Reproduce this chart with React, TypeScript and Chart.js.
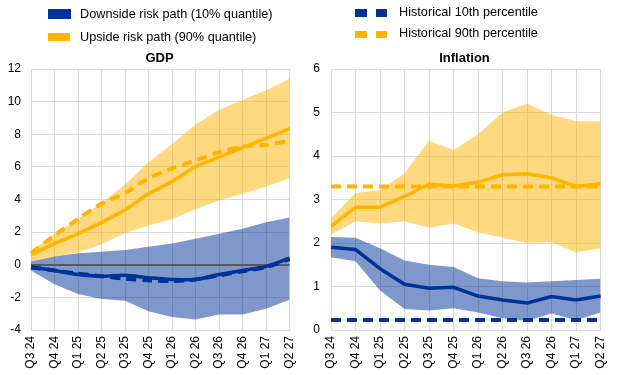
import React, { useEffect, useRef } from "react";
import { Chart, registerables } from "chart.js";

Chart.register(...registerables);

const quarters = ["Q3 24", "Q4 24", "Q1 25", "Q2 25", "Q3 25", "Q4 25", "Q1 26", "Q2 26", "Q3 26", "Q4 26", "Q1 27", "Q2 27"];

// GDP
const gdpUpUpper = [0.8, 1.9, 2.8, 3.8, 4.9, 6.3, 7.4, 8.6, 9.5, 10.1, 10.7, 11.4];
const gdpUpLower = [0.2, 0.5, 0.75, 1.25, 1.95, 2.4, 2.8, 3.4, 3.95, 4.35, 4.8, 5.3];
const gdpUpPath = [0.6, 1.3, 1.9, 2.6, 3.35, 4.35, 5.1, 6.0, 6.6, 7.2, 7.75, 8.35];
const gdpUpHist = [0.7, 1.8, 2.8, 3.75, 4.4, 5.3, 5.9, 6.4, 6.9, 7.25, 7.35, 7.6];
const gdpDownUpper = [0.2, 0.5, 0.7, 0.8, 0.9, 1.1, 1.3, 1.6, 1.9, 2.2, 2.6, 2.9];
const gdpDownLower = [-0.35, -1.2, -1.8, -2.1, -2.2, -2.85, -3.2, -3.35, -3.05, -3.05, -2.7, -2.15];
const gdpDownPath = [-0.15, -0.35, -0.6, -0.7, -0.65, -0.8, -0.9, -0.9, -0.6, -0.35, -0.1, 0.4];
const gdpDownHist = [-0.15, -0.35, -0.55, -0.7, -0.85, -0.95, -1.0, -0.9, -0.65, -0.4, -0.15, 0.35];

// Inflation
const infUpUpper = [2.57, 3.15, 3.22, 3.6, 4.35, 4.14, 4.5, 5.0, 5.2, 4.95, 4.8, 4.8];
const infUpLower = [2.19, 2.5, 2.45, 2.5, 2.35, 2.45, 2.25, 2.12, 2.0, 2.02, 1.78, 1.88];
const infUpPath = [2.38, 2.82, 2.82, 3.07, 3.35, 3.31, 3.4, 3.57, 3.59, 3.5, 3.3, 3.36];
const infUpHist = [3.3, 3.3, 3.3, 3.3, 3.3, 3.3, 3.3, 3.3, 3.3, 3.3, 3.3, 3.3];
const infDownUpper = [2.14, 2.12, 1.88, 1.6, 1.5, 1.45, 1.19, 1.12, 1.09, 1.12, 1.15, 1.18];
const infDownLower = [1.67, 1.58, 0.91, 0.48, 0.45, 0.5, 0.4, 0.27, 0.21, 0.38, 0.23, 0.4];
const infDownPath = [1.9, 1.85, 1.41, 1.05, 0.96, 0.98, 0.78, 0.69, 0.62, 0.77, 0.69, 0.78];
const infDownHist = [0.23, 0.23, 0.23, 0.23, 0.23, 0.23, 0.23, 0.23, 0.23, 0.23, 0.23, 0.23];

const gdpTicks = { min: -4, max: 12, step: 2 };
const infTicks = { min: 0, max: 6, step: 1 };

const BLUE = "#003299";
const YELLOW = "#FFB400";
const BLUE_FILL = "rgba(0,50,153,0.5)";
const YELLOW_FILL = "rgba(255,180,0,0.5)";
const GRID = "#d9d9d9";
const FONT = "Arial, 'Liberation Sans', sans-serif";

type Cfg = {
  upUpper: number[]; upLower: number[]; upPath: number[]; upHist: number[];
  downUpper: number[]; downLower: number[]; downPath: number[]; downHist: number[];
  ticks: { min: number; max: number; step: number };
  axisWidth: number; tickPad: number; padRight: number; tension: number; zeroLine: boolean;
};

function makeConfig(c: Cfg): any {
  const band = (data: number[], fill: any, color: string, order: number) => ({
    data, fill, backgroundColor: color, borderWidth: 0, pointRadius: 0, order, tension: 0,
  });
  const line = (data: number[], color: string, dashed: boolean, order: number) => ({
    data, fill: false, borderColor: color, borderWidth: dashed ? 4 : 3.5,
    borderDash: dashed ? [10, 6] : [], borderCapStyle: "butt", pointRadius: 0, order,
    tension: c.tension,
  });
  const zeroPlugin = {
    id: "zeroLine",
    beforeDatasetDraw(chart: any, args: any) {
      if (!c.zeroLine || args.index !== 4) return;
      const y = chart.scales.y.getPixelForValue(0);
      const { left, right } = chart.chartArea;
      const ctx = chart.ctx;
      ctx.save();
      ctx.strokeStyle = "#595959";
      ctx.lineWidth = 2;
      ctx.beginPath();
      ctx.moveTo(left, Math.round(y));
      ctx.lineTo(right, Math.round(y));
      ctx.stroke();
      ctx.restore();
    },
  };
  return {
    type: "line",
    data: {
      labels: quarters,
      datasets: [
        band(c.upLower, false, "transparent", 10),
        band(c.upUpper, "-1", YELLOW_FILL, 10),
        band(c.downLower, false, "transparent", 9),
        band(c.downUpper, "-1", BLUE_FILL, 9),
        line(c.upHist, YELLOW, true, 3),
        line(c.upPath, YELLOW, false, 2),
        line(c.downHist, BLUE, true, 1),
        line(c.downPath, BLUE, false, 0),
      ],
    },
    options: {
      animation: false,
      responsive: false,
      maintainAspectRatio: false,
      layout: { padding: { top: 69, right: c.padRight, bottom: 0, left: 0 } },
      plugins: { legend: { display: false }, title: { display: false }, tooltip: { enabled: false } },
      scales: {
        x: {
          type: "category",
          offset: false,
          grid: { color: GRID, lineWidth: 1, drawTicks: false },
          border: { color: GRID },
          ticks: {
            autoSkip: false, maxRotation: 90, minRotation: 90, padding: 6,
            color: "#000", font: { family: FONT, size: 12 },
          },
          afterFit: (s: any) => { s.height = 45; },
        },
        y: {
          min: c.ticks.min, max: c.ticks.max,
          grid: { color: GRID, lineWidth: 1, drawTicks: false },
          border: { color: GRID },
          ticks: { stepSize: c.ticks.step, padding: c.tickPad, color: "#000", font: { family: FONT, size: 12 } },
          afterFit: (s: any) => { s.width = c.axisWidth; },
        },
      },
    },
    plugins: [zeroPlugin],
  };
}

function ChartCanvas({ cfg, left, width }: { cfg: Cfg; left: number; width: number }) {
  const ref = useRef<HTMLCanvasElement>(null);
  useEffect(() => {
    if (!ref.current) return;
    const chart = new Chart(ref.current, makeConfig(cfg));
    return () => chart.destroy();
  }, []);
  return (
    <canvas
      ref={ref}
      width={width}
      height={375}
      style={{ position: "absolute", left, top: 0, width, height: 375 }}
    />
  );
}

const text: React.CSSProperties = {
  position: "absolute", fontFamily: FONT, fontSize: 13, lineHeight: "15px", color: "#000", whiteSpace: "nowrap",
};
const legendText: React.CSSProperties = { ...text, fontSize: 12.7 };

export default function App() {
  return (
    <div style={{ position: "absolute", left: 0, top: 0, width: 621, height: 375, background: "#fff", overflow: "hidden" }}>
      <ChartCanvas
        left={0}
        width={310}
        cfg={{
          upUpper: gdpUpUpper, upLower: gdpUpLower, upPath: gdpUpPath, upHist: gdpUpHist,
          downUpper: gdpDownUpper, downLower: gdpDownLower, downPath: gdpDownPath, downHist: gdpDownHist,
          ticks: gdpTicks, axisWidth: 31, tickPad: 10, padRight: 16, tension: 0.3, zeroLine: true,
        }}
      />
      <ChartCanvas
        left={310}
        width={311}
        cfg={{
          upUpper: infUpUpper, upLower: infUpLower, upPath: infUpPath, upHist: infUpHist,
          downUpper: infDownUpper, downLower: infDownLower, downPath: infDownPath, downHist: infDownHist,
          ticks: infTicks, axisWidth: 21, tickPad: 11, padRight: 19, tension: 0, zeroLine: false,
        }}
      />
      {/* Legends */}
      <div style={{ position: "absolute", left: 48, top: 9, width: 23, height: 10, background: BLUE }} />
      <div style={{ ...legendText, left: 80, top: 6.5 }}>Downside risk path (10% quantile)</div>
      <div style={{ position: "absolute", left: 48, top: 33, width: 22, height: 8, background: YELLOW }} />
      <div style={{ ...legendText, left: 80, top: 30 }}>Upside risk path (90% quantile)</div>

      <div style={{ position: "absolute", left: 355, top: 9, width: 12, height: 8, background: BLUE }} />
      <div style={{ position: "absolute", left: 376, top: 9, width: 11, height: 8, background: BLUE }} />
      <div style={{ ...legendText, left: 399, top: 5 }}>Historical 10th percentile</div>
      <div style={{ position: "absolute", left: 355, top: 31, width: 12, height: 7, background: YELLOW }} />
      <div style={{ position: "absolute", left: 376, top: 31, width: 11, height: 7, background: YELLOW }} />
      <div style={{ ...legendText, left: 399, top: 26 }}>Historical 90th percentile</div>

      {/* Titles */}
      <div style={{ ...text, left: 59.5, width: 200, textAlign: "center", top: 50, fontWeight: "bold" }}>GDP</div>
      <div style={{ ...text, left: 364.5, width: 200, textAlign: "center", top: 50, fontWeight: "bold" }}>Inflation</div>
    </div>
  );
}
